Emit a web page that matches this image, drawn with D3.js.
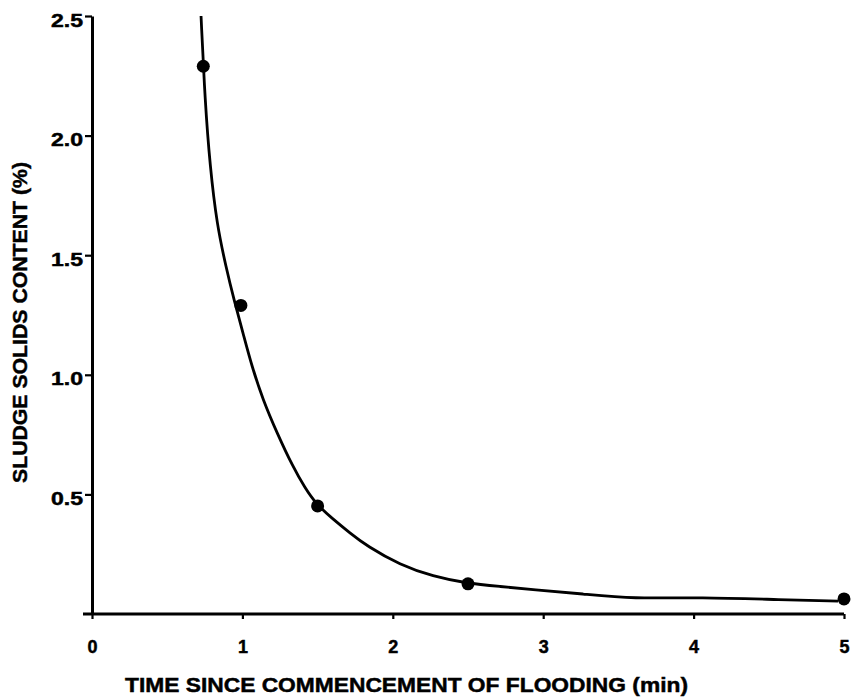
<!DOCTYPE html>
<html>
<head>
<meta charset="utf-8">
<script src="https://cdn.jsdelivr.net/npm/d3@7"></script>
<style>
  html, body { margin: 0; padding: 0; background: #fff; }
  svg { display: block; }
  text { font-family: "Liberation Sans", Arial, Helvetica, sans-serif; font-weight: bold; fill: #000; stroke: #000; stroke-width: 0.45px; }
</style>
</head>
<body>
<svg id="chart" width="857" height="699"></svg>
<script>
// Measured samples: sludge solids vs. time since flooding began
const timeMin = [0.74, 0.99, 1.5, 2.5, 5.0];
const solidsPct = [2.29, 1.29, 0.452, 0.126, 0.063];

// Hand-fitted trend curve through the samples
const curveTime = [0.725, 0.751, 0.785, 0.831, 0.891, 0.944, 1.004, 1.064, 1.137, 1.230, 1.336, 1.416, 1.489, 1.602, 1.715, 1.828, 2.048, 2.267, 2.493, 2.713, 2.932, 3.265, 3.597, 4.043, 4.594, 4.96];
const curveSolids = [2.5, 2.149, 1.869, 1.626, 1.451, 1.313, 1.175, 1.033, 0.895, 0.757, 0.615, 0.527, 0.460, 0.397, 0.339, 0.284, 0.205, 0.157, 0.128, 0.115, 0.102, 0.084, 0.063, 0.071, 0.059, 0.054];

// Axis ticks
const xTicks = [0, 1, 2, 3, 4, 5];
const yTicks = [0.5, 1.0, 1.5, 2.0, 2.5];
const xTitle = "TIME SINCE COMMENCEMENT OF FLOODING (min)";
const yTitle = "SLUDGE SOLIDS CONTENT (%)";

const svg = d3.select("#chart");

const x = d3.scaleLinear().domain([0, 5]).range([92, 844]);
const y = d3.scaleLinear().domain([0, 2.5]).range([614, 16]);

const ink = "#000";
const fontStack = "'Liberation Sans', Arial, sans-serif";

// Y axis
const yAxis = svg.append("g")
  .attr("transform", `translate(${x(0)},0)`)
  .call(d3.axisLeft(y).tickValues(yTicks).tickFormat(d3.format(".1f")).tickSize(7).tickSizeOuter(0).tickPadding(2));
yAxis.select(".domain").attr("stroke", ink).attr("stroke-width", 3);
yAxis.selectAll(".tick line").attr("stroke", ink).attr("stroke-width", 2.2);
yAxis.selectAll(".tick text")
  .attr("dy", null)
  .attr("y", 10)
  .attr("textLength", 32)
  .attr("lengthAdjust", "spacingAndGlyphs")
  .style("font-size", "17.5px")
  .style("font-family", fontStack)
  .style("font-weight", "bold");

// X axis
const xAxis = svg.append("g")
  .attr("transform", `translate(0,${y(0)})`)
  .call(d3.axisBottom(x).tickValues(xTicks).tickFormat(d3.format("d")).tickSize(5).tickSizeOuter(0).tickPadding(21));
xAxis.select(".domain").remove();
xAxis.append("line")
  .attr("x1", x(0) - 9).attr("x2", x(5))
  .attr("y1", 0).attr("y2", 0)
  .attr("stroke", ink).attr("stroke-width", 3);
xAxis.selectAll(".tick line").attr("stroke", ink).attr("stroke-width", 2.2);
xAxis.selectAll(".tick text")
  .style("font-size", "18px")
  .style("font-family", fontStack)
  .style("font-weight", "bold");

// Axis titles
svg.append("text")
  .attr("x", 125).attr("y", 692)
  .style("font-size", "19.5px")
  .attr("textLength", 563)
  .attr("lengthAdjust", "spacingAndGlyphs")
  .text(xTitle);

svg.append("text")
  .attr("transform", `translate(27,${(162 + 483) / 2}) rotate(-90)`)
  .attr("text-anchor", "middle")
  .style("font-size", "20px")
  .attr("textLength", 321)
  .attr("lengthAdjust", "spacingAndGlyphs")
  .text(yTitle);

// Trend curve
const curvePts = curveTime.map((t, i) => [t, curveSolids[i]]);
const line = d3.line()
  .x(d => x(d[0]))
  .y(d => y(d[1]))
  .curve(d3.curveBasis);
svg.append("path")
  .datum(curvePts)
  .attr("d", line)
  .attr("fill", "none")
  .attr("stroke", ink)
  .attr("stroke-width", 2.8)
  .attr("stroke-linejoin", "round");

// Sample points
svg.append("g")
  .selectAll("circle")
  .data(timeMin.map((t, i) => [t, solidsPct[i]]))
  .join("circle")
  .attr("cx", d => x(d[0]))
  .attr("cy", d => y(d[1]))
  .attr("r", 6.5)
  .attr("fill", ink);
</script>
</body>
</html>
